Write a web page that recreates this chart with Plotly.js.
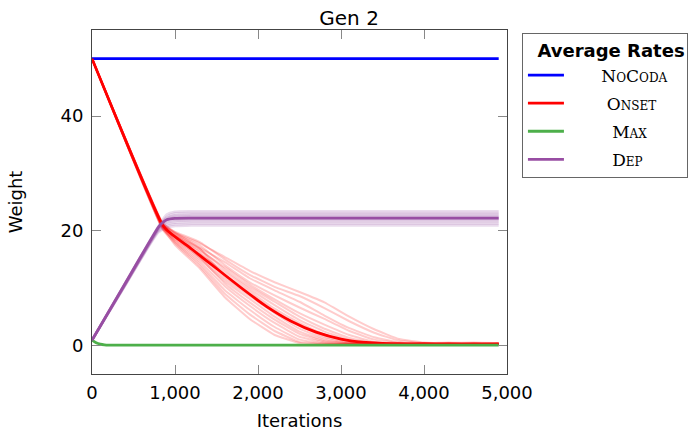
<!DOCTYPE html>
<html>
<head>
<meta charset="utf-8">
<script src="https://cdn.plot.ly/plotly-3.0.1.min.js"></script>
<style>html,body{margin:0;padding:0;background:#fff;}#chart{width:694px;height:432px;}</style>
</head>
<body>
<div id="chart"></div>
<script>
// ---- data ----
const noCodaX = [0, 4900];
const noCodaY = [50, 50];

const onsetX = [0, 850, 950, 1200, 1500, 1800, 2100, 2400, 2700, 3000, 3300, 3600, 4000, 4500, 4900];
const onsetY = [50, 21.0, 19.5, 16.8, 13.4, 10.0, 6.8, 4.2, 2.3, 1.1, 0.5, 0.3, 0.25, 0.2, 0.2];

const maxX = [0, 50, 100, 150, 200, 300, 4900];
const maxY = [0.9, 0.45, 0.2, 0.08, 0.03, 0.02, 0.02];

const depX = [0, 400, 800, 850, 900, 1000, 1200, 4900];
const depY = [0.9, 10.8, 20.6, 21.4, 21.9, 22.15, 22.2, 22.2];

// individual runs (faint)
const onsetRunX = [0, 850, 1000, 1300, 1600, 1900, 2200, 2500, 2800, 3100, 3400, 3700, 4000, 4300, 4600, 4900];
const onsetRuns = [
  [50, 21.3, 19.6, 17.8, 15.4, 13.0, 11.0, 9.3, 7.5, 5.0, 2.8, 1.1, 0.5, 0.4, 0.5, 0.4],
  [50, 21.0, 19.8, 18.0, 15.0, 12.3, 10.2, 8.6, 6.5, 4.2, 2.2, 0.8, 0.4, 0.5, 0.3, 0.4],
  [50, 20.8, 19.2, 17.0, 14.5, 11.7, 9.6, 7.6, 5.2, 3.0, 1.4, 0.5, 0.3, 0.4, 0.3, 0.3],
  [50, 21.2, 19.5, 17.4, 14.0, 11.0, 8.7, 6.6, 4.6, 2.5, 1.0, 0.4, 0.3, 0.2, 0.4, 0.3],
  [50, 20.6, 19.0, 16.5, 13.6, 10.6, 8.0, 5.6, 3.6, 1.8, 0.6, 0.3, 0.3, 0.3, 0.2, 0.3],
  [50, 21.0, 19.3, 16.8, 13.2, 10.2, 7.6, 5.0, 2.9, 1.3, 0.4, 0.2, 0.3, 0.2, 0.3, 0.2],
  [50, 20.9, 18.8, 15.9, 12.8, 9.8, 7.0, 4.4, 2.4, 1.0, 0.3, 0.3, 0.2, 0.3, 0.2, 0.3],
  [50, 20.5, 19.1, 16.2, 12.3, 9.4, 6.4, 3.9, 1.9, 0.7, 0.3, 0.2, 0.2, 0.2, 0.3, 0.2],
  [50, 21.4, 19.7, 16.9, 12.0, 9.0, 6.0, 3.4, 1.5, 0.5, 0.2, 0.3, 0.2, 0.2, 0.2, 0.2],
  [50, 20.7, 18.6, 15.4, 11.6, 8.6, 5.6, 2.9, 1.2, 0.4, 0.3, 0.2, 0.3, 0.2, 0.2, 0.3],
  [50, 20.3, 18.4, 15.0, 11.2, 8.1, 5.0, 2.4, 0.9, 0.3, 0.2, 0.2, 0.2, 0.3, 0.2, 0.2],
  [50, 21.1, 18.9, 15.3, 10.8, 7.5, 4.5, 2.0, 0.7, 0.3, 0.3, 0.2, 0.2, 0.2, 0.3, 0.2],
  [50, 20.4, 18.2, 14.6, 10.3, 6.9, 3.9, 1.5, 0.5, 0.2, 0.2, 0.3, 0.2, 0.2, 0.2, 0.2],
  [50, 20.9, 18.0, 14.2, 9.6, 6.2, 3.2, 1.0, 0.3, 0.3, 0.2, 0.2, 0.3, 0.2, 0.2, 0.2],
  [50, 20.2, 17.8, 13.8, 9.0, 5.4, 2.5, 0.6, 0.3, 0.2, 0.3, 0.2, 0.2, 0.2, 0.2, 0.2],
  [50, 20.6, 17.5, 13.4, 8.4, 4.6, 1.8, 0.4, 0.2, 0.3, 0.2, 0.2, 0.2, 0.3, 0.2, 0.2]
];

const depRunX = [0, 400, 800, 900, 1000, 1200, 4900];
const depRuns = [
  [0.9, 10.9, 20.8, 22.8, 23.3, 23.4, 23.4],
  [0.9, 10.7, 20.5, 22.4, 23.0, 23.1, 23.1],
  [0.9, 10.8, 20.7, 22.2, 22.7, 22.8, 22.8],
  [0.9, 10.6, 20.3, 22.0, 22.5, 22.6, 22.6],
  [0.9, 10.8, 20.6, 21.9, 22.3, 22.4, 22.4],
  [0.9, 10.5, 20.2, 21.6, 21.9, 22.0, 22.0],
  [0.9, 10.7, 20.4, 21.4, 21.7, 21.8, 21.8],
  [0.9, 10.6, 20.1, 21.1, 21.4, 21.5, 21.5],
  [0.9, 10.4, 19.9, 20.8, 21.1, 21.2, 21.2],
  [0.9, 10.5, 19.7, 20.5, 20.8, 20.9, 20.9]
];

const seriesNames = ['NoCoda', 'Onset', 'Max', 'Dep'];
const seriesColors = ['#0000ff', '#ff0000', '#4daf4a', '#984ea3'];
const legendTitle = 'Average Rates';
const xTickVals = [0, 1000, 2000, 3000, 4000, 5000];
const yTickVals = [0, 20, 40];

// ---- traces ----
const traces = [];
onsetRuns.forEach(r => traces.push({
  x: onsetRunX, y: r, mode: 'lines', showlegend: false, hoverinfo: 'skip',
  line: {color: 'rgba(255,0,0,0.2)', width: 2, shape: 'spline', smoothing: 0.3}
}));
depRuns.forEach(r => traces.push({
  x: depRunX, y: r, mode: 'lines', showlegend: false, hoverinfo: 'skip',
  line: {color: 'rgba(152,78,163,0.2)', width: 2.5, shape: 'spline', smoothing: 0.5}
}));
// padding (non-breaking spaces) so legend labels sit centred in their column as in the reference
const pad = [6, 7, 8, 8];
const mains = [[noCodaX, noCodaY], [onsetX, onsetY], [maxX, maxY], [depX, depY]];
mains.forEach((m, i) => traces.push({
  x: m[0], y: m[1], mode: 'lines', name: '\u00A0'.repeat(pad[i]) + seriesNames[i],
  legendgroup: 'g' + i,
  line: {color: seriesColors[i], width: 2.8, shape: 'spline', smoothing: 0.5}
}));

const sans = 'DejaVu Sans, sans-serif';
const layout = {
  width: 694, height: 432,
  margin: {l: 92, r: 187, t: 30, b: 58, pad: 0, autoexpand: false},
  paper_bgcolor: '#fff', plot_bgcolor: '#fff',
  font: {family: sans, size: 18, color: '#000'},
  title: {text: 'Gen 2', font: {family: sans, size: 20}, x: 0.503, xref: 'container', y: 0.958, yanchor: 'middle'},
  xaxis: {
    range: [0, 5000], tickvals: xTickVals, tickformat: ',d',
    ticks: 'inside', ticklen: 9, tickcolor: '#888', tickwidth: 1,
    showline: true, linecolor: '#444', linewidth: 1, mirror: 'ticks',
    showgrid: false, zeroline: false, ticklabelstandoff: 2,
    title: {text: 'Iterations', font: {family: sans, size: 18}, standoff: 12}
  },
  yaxis: {
    range: [-5, 55], tickvals: yTickVals,
    ticks: 'inside', ticklen: 9, tickcolor: '#888', tickwidth: 1,
    showline: true, linecolor: '#444', linewidth: 1, mirror: 'ticks',
    showgrid: false, zeroline: false, ticklabelstandoff: 4,
    title: {text: 'Weight', font: {family: sans, size: 18}, standoff: 33}
  },
  legend: {
    x: 1.036, y: 0.991, xanchor: 'left', yanchor: 'top',
    bordercolor: '#666', borderwidth: 1, bgcolor: '#fff',
    font: {family: 'DejaVu Serif, serif', size: 17, variant: 'small-caps'},
    title: {text: '\u00A0\u00A0' + legendTitle, side: 'top',
            font: {family: sans, size: 18, weight: 'bold', variant: 'normal'}},
    tracegroupgap: 3, itemwidth: 36
  }
};

Plotly.newPlot('chart', traces, layout, {displayModeBar: false, staticPlot: true});
</script>
</body>
</html>
